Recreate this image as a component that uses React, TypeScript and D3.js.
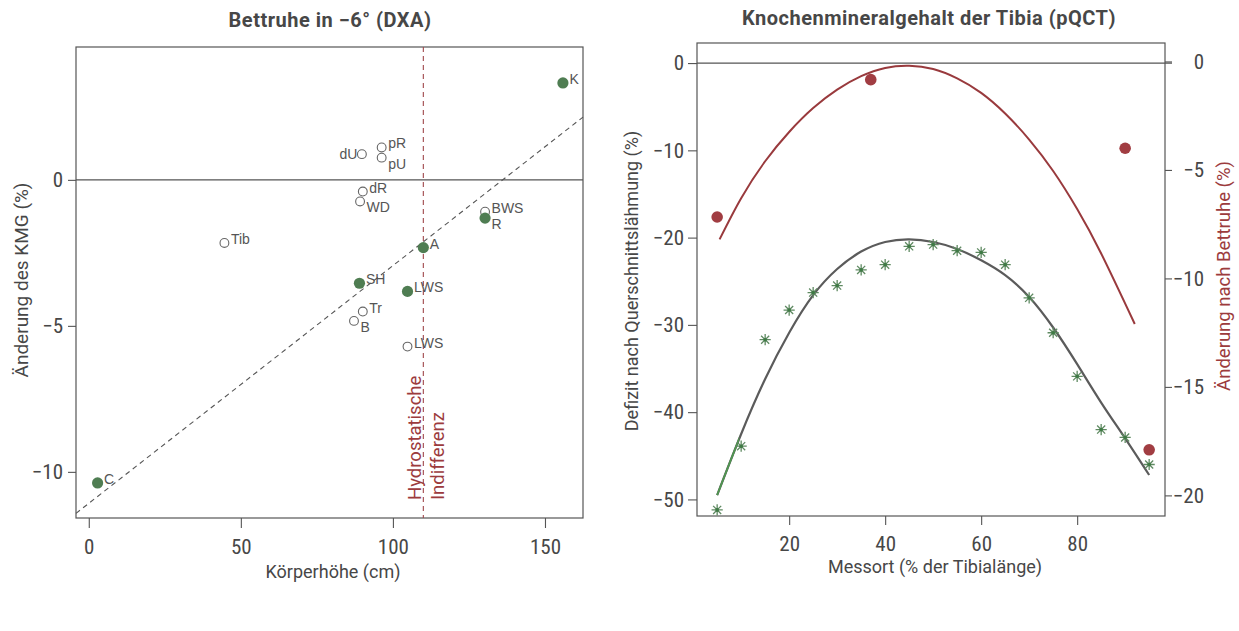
import { useRef, useEffect } from "react";
import * as d3 from "d3";

// left panel: Bettruhe in -6° (DXA)
const bedLabels = ["K", "pR", "pU", "dU", "dR", "WD", "BWS", "R", "Tib", "A", "SH", "LWS", "Tr", "B", "LWS", "C"];
const bedHeight = [155.9, 96.3, 96.3, 89.8, 90.1, 89.2, 130.3, 130.3, 44.6, 110, 89, 104.8, 90.1, 87.2, 104.8, 2.9];
const bedChange = [3.32, 1.11, 0.76, 0.88, -0.4, -0.74, -1.09, -1.31, -2.16, -2.32, -3.54, -3.82, -4.51, -4.83, -5.71, -10.38];
const bedFilled = [true, false, false, false, false, false, false, true, false, true, true, true, false, false, false, true];
const fitHeight = [-4.2, 162.5];
const fitChange = [-11.42, 2.15];
const indifferenceHeight = 110;
const bedXTicks = [0, 50, 100, 150];
const bedYTicks = [0, -5, -10];

// right panel: Knochenmineralgehalt der Tibia (pQCT)
const siteX = [5, 10, 15, 20, 25, 30, 35, 40, 45, 50, 55, 60, 65, 70, 75, 80, 85, 90, 95];
const deficit = [-51.2, -43.9, -31.7, -28.3, -26.3, -25.5, -23.7, -23.1, -21.0, -20.8, -21.5, -21.7, -23.1, -26.9, -30.9, -35.9, -42.0, -42.9, -46.0];
const deficitFit = [-49.5, -42.5, -36.2, -30.9, -26.6, -23.6, -21.6, -20.5, -20.2, -20.5, -21.3, -22.6, -24.3, -26.8, -30.3, -34.5, -38.9, -43.0, -47.2];
const restX = [5, 37, 90, 95];
const restChange = [-7.17, -0.84, -4.0, -17.9];
const restFitX = [5.5, 10, 15, 20, 25, 30, 35, 40, 45, 50, 55, 60, 65, 70, 75, 80, 85, 92];
const restFit = [-8.2, -6.3, -4.6, -3.25, -2.15, -1.3, -0.68, -0.3, -0.2, -0.35, -0.78, -1.45, -2.4, -3.6, -5.05, -6.8, -8.85, -12.1];
const siteTicks = [20, 40, 60, 80];
const deficitTicks = [0, -10, -20, -30, -40, -50];
const restTicks = [0, -5, -10, -15, -20];

// where each point label sits (ur = upper right, lr = lower right, l = left)
const bedLabelSide = ["ur", "ur", "lr", "l", "ur", "lr", "ur", "lr", "ur", "ur", "ur", "ur", "ur", "lr", "ur", "ur"];

const narrow = '"Liberation Sans Narrow", "Roboto Condensed", Roboto, sans-serif';
const sans = 'Roboto, "Liberation Sans", sans-serif';
const plain = '"Liberation Sans", Arial, sans-serif';
const ink = "#474747";
const redInk = "#9c3b3d";

const App = () => {
  const container = useRef(null);
  useEffect(() => {
    createChart();
  });

  const createChart = () => {
    let node = container.current;
    let svg = d3
      .select(node)
      .selectAll("svg")
      .data([0])
      .join("svg")
      .attr("width", 1239)
      .attr("height", 631)
      .style("display", "block")
      .style("background", "#fff");
    svg.selectAll("*").remove();

    const styleAxis = (g) => {
      g.select(".domain").remove();
      g.selectAll(".tick line").attr("stroke", "#555").attr("stroke-width", 1.1);
      g.selectAll(".tick text")
        .style("font-family", narrow)
        .style("font-size", "21px")
        .attr("fill", ink);
    };

    const title = (x, y, txt) =>
      svg
        .append("text")
        .attr("x", x)
        .attr("y", y)
        .attr("text-anchor", "middle")
        .style("font-family", sans)
        .style("font-weight", "bold")
        .style("font-size", "20px")
        .style("letter-spacing", "0.5px")
        .attr("fill", ink)
        .text(txt);

    const label = (x, y, txt, rotate, color = ink, anchor = "middle") =>
      svg
        .append("text")
        .attr("transform", `translate(${x},${y})${rotate ? " rotate(-90)" : ""}`)
        .attr("text-anchor", anchor)
        .style("font-family", sans)
        .style("font-size", "18px")
        .attr("fill", color)
        .text(txt);

    // ---------- left panel ----------
    let left = { l: 76, r: 583, t: 47, b: 518 };
    let xL = d3.scaleLinear().domain([-4.2, 162.5]).range([left.l, left.r]);
    let yL = d3.scaleLinear().domain([4.55, -11.58]).range([left.t, left.b]);

    title(330, 27, "Bettruhe in −6° (DXA)");

    let gxL = svg
      .append("g")
      .attr("transform", `translate(0,${left.b})`)
      .call(d3.axisBottom(xL).tickValues(bedXTicks).tickSize(10).tickPadding(11));
    styleAxis(gxL);

    let gyL = svg
      .append("g")
      .attr("transform", `translate(${left.l},0)`)
      .call(d3.axisLeft(yL).tickValues(bedYTicks).tickSize(8).tickPadding(5));
    styleAxis(gyL);

    svg
      .append("rect")
      .attr("x", left.l)
      .attr("y", left.t)
      .attr("width", left.r - left.l)
      .attr("height", left.b - left.t)
      .attr("fill", "none")
      .attr("stroke", "#555")
      .attr("stroke-width", 1.2);

    svg
      .append("line")
      .attr("x1", left.l)
      .attr("x2", left.r)
      .attr("y1", yL(0))
      .attr("y2", yL(0))
      .attr("stroke", "#555")
      .attr("stroke-width", 1.2);

    svg
      .append("line")
      .attr("x1", xL(indifferenceHeight))
      .attr("x2", xL(indifferenceHeight))
      .attr("y1", left.t)
      .attr("y2", left.b)
      .attr("stroke", "#a0474a")
      .attr("stroke-width", 1.1)
      .attr("stroke-dasharray", "5 4");

    svg
      .append("path")
      .datum(fitHeight.map((h, i) => ({ x: h, y: fitChange[i] })))
      .attr("fill", "none")
      .attr("stroke", "#555")
      .attr("stroke-width", 1.1)
      .attr("stroke-dasharray", "5 4")
      .attr(
        "d",
        d3
          .line()
          .x((d) => xL(d.x))
          .y((d) => yL(d.y))
      );

    label(421, 500, "Hydrostatische", true, redInk, "start").style("font-size", "18.5px");
    label(444, 500, "Indifferenz", true, redInk, "start").style("font-size", "18.5px");

    let bedPoints = bedLabels.map((lab, i) => ({
      label: lab,
      x: bedHeight[i],
      y: bedChange[i],
      filled: bedFilled[i],
      side: bedLabelSide[i],
    }));

    svg
      .append("g")
      .selectAll("circle")
      .data(bedPoints)
      .join("circle")
      .attr("cx", (d) => xL(d.x))
      .attr("cy", (d) => yL(d.y))
      .attr("r", (d) => (d.filled ? 5.6 : 4.4))
      .attr("fill", (d) => (d.filled ? "#4f7d52" : "#fff"))
      .attr("stroke", (d) => (d.filled ? "none" : "#666"))
      .attr("stroke-width", 1.1);

    svg
      .append("g")
      .selectAll("text")
      .data(bedPoints)
      .join("text")
      .attr("x", (d) => (d.side === "l" ? xL(d.x) - 4.5 : xL(d.x) + 6.5))
      .attr("y", (d) => yL(d.y) + (d.side === "lr" ? 11 : d.side === "l" ? 5 : 1))
      .attr("text-anchor", (d) => (d.side === "l" ? "end" : "start"))
      .style("font-family", plain)
      .style("font-size", "14px")
      .attr("fill", "#555")
      .text((d) => d.label);

    label(333, 578, "Körperhöhe (cm)", false);
    label(28, 280, "Änderung des KMG (%)", true).style("font-size", "19px");

    // ---------- right panel ----------
    let right = { l: 697, r: 1165, t: 43, b: 516 };
    let xR = d3.scaleLinear().domain([0.8, 98.3]).range([right.l, right.r]);
    let yRL = d3.scaleLinear().domain([2.3, -51.9]).range([right.t, right.b]);
    let yRR = d3.scaleLinear().domain([0.85, -20.95]).range([right.t, right.b]);

    title(929, 25, "Knochenmineralgehalt der Tibia (pQCT)");

    let gxR = svg
      .append("g")
      .attr("transform", `translate(0,${right.b})`)
      .call(d3.axisBottom(xR).tickValues(siteTicks).tickSize(9).tickPadding(11));
    styleAxis(gxR);

    let gyRL = svg
      .append("g")
      .attr("transform", `translate(${right.l},0)`)
      .call(d3.axisLeft(yRL).tickValues(deficitTicks).tickSize(9).tickPadding(4));
    styleAxis(gyRL);

    let gyRR = svg
      .append("g")
      .attr("transform", `translate(${right.r},0)`)
      .call(d3.axisRight(yRR).tickValues(restTicks).tickSize(7));
    styleAxis(gyRR);
    gyRR.selectAll(".tick text").attr("x", 39).attr("text-anchor", "end");

    svg
      .append("rect")
      .attr("x", right.l)
      .attr("y", right.t)
      .attr("width", right.r - right.l)
      .attr("height", right.b - right.t)
      .attr("fill", "none")
      .attr("stroke", "#555")
      .attr("stroke-width", 1.2);

    svg
      .append("line")
      .attr("x1", right.l)
      .attr("x2", right.r + 7)
      .attr("y1", yRL(0))
      .attr("y2", yRL(0))
      .attr("stroke", "#555")
      .attr("stroke-width", 1.2);

    let lineL = d3
      .line()
      .x((d) => xR(d.x))
      .y((d) => yRL(d.y))
      .curve(d3.curveNatural);
    let lineR = d3
      .line()
      .x((d) => xR(d.x))
      .y((d) => yRR(d.y))
      .curve(d3.curveNatural);

    let deficitCurve = siteX.map((x, i) => ({ x, y: deficitFit[i] }));
    let restCurve = restFitX.map((x, i) => ({ x, y: restFit[i] }));

    svg
      .append("path")
      .datum(restCurve)
      .attr("fill", "none")
      .attr("stroke", "#993a3d")
      .attr("stroke-width", 2)
      .attr("d", lineR);

    svg
      .append("path")
      .datum(deficitCurve)
      .attr("fill", "none")
      .attr("stroke", "#5b5b5b")
      .attr("stroke-width", 2.2)
      .attr("d", lineL);

    // green start of the fitted deficit curve
    svg
      .append("clipPath")
      .attr("id", "greenStart")
      .append("rect")
      .attr("x", xR(4))
      .attr("y", right.t)
      .attr("width", xR(9.6) - xR(4))
      .attr("height", right.b - right.t);
    svg
      .append("path")
      .datum(deficitCurve)
      .attr("fill", "none")
      .attr("stroke", "#4f9650")
      .attr("stroke-width", 1.8)
      .attr("clip-path", "url(#greenStart)")
      .attr("d", lineL);

    let arm = 5.6;
    let diag = arm * 0.72;
    let starPath = `M${-arm},0L${arm},0M0,${-arm}L0,${arm}M${-diag},${-diag}L${diag},${diag}M${-diag},${diag}L${diag},${-diag}`;

    let stars = svg
      .append("g")
      .selectAll("g")
      .data(siteX.map((x, i) => ({ x, y: deficit[i] })))
      .join("g")
      .attr("transform", (d) => `translate(${xR(d.x)},${yRL(d.y)})`);
    stars
      .append("path")
      .attr("d", starPath)
      .attr("stroke", "#5f8a62")
      .attr("stroke-width", 1.3)
      .attr("fill", "none");
    stars.append("circle").attr("r", 1.8).attr("fill", "#3f7a45");

    svg
      .append("g")
      .selectAll("circle")
      .data(restX.map((x, i) => ({ x, y: restChange[i] })))
      .join("circle")
      .attr("cx", (d) => xR(d.x))
      .attr("cy", (d) => yRR(d.y))
      .attr("r", 5.8)
      .attr("fill", "#a13d42");

    label(935, 573, "Messort (% der Tibialänge)", false);
    label(638, 281, "Defizit nach Querschnittslähmung (%)", true);
    label(1230, 276, "Änderung nach Bettruhe (%)", true, redInk).style("font-size", "18.5px");

    return;
  };

  return (
    <div
      ref={container}
      style={{ position: "absolute", left: 0, top: 0, width: 1239, height: 631, background: "#fff" }}
    ></div>
  );
};

export default App;
